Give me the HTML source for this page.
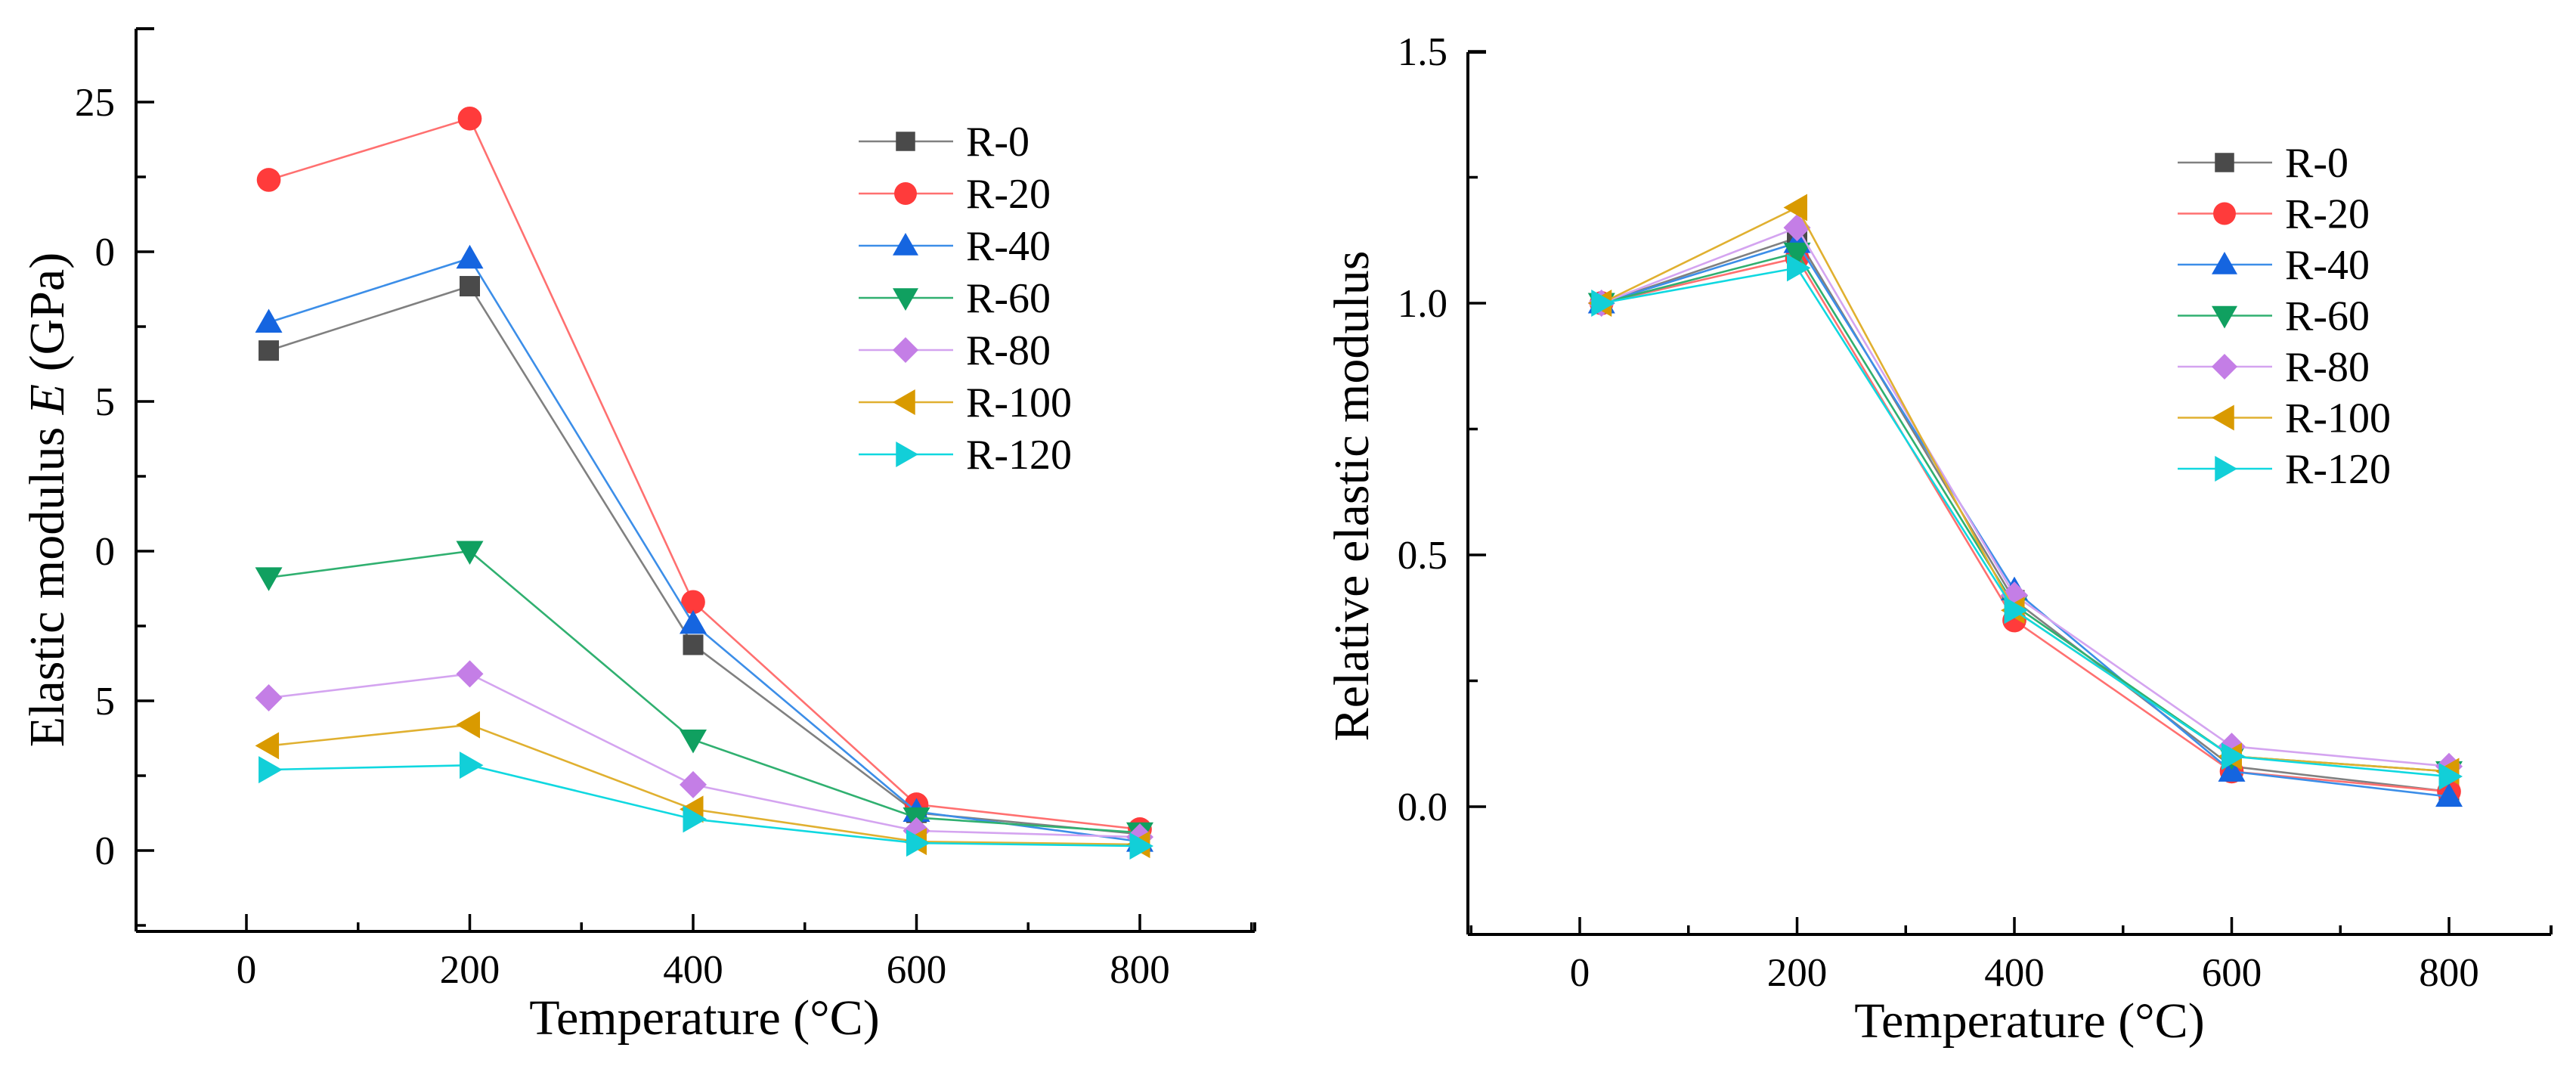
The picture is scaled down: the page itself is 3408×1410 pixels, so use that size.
<!DOCTYPE html>
<html><head><meta charset="utf-8"><style>
html,body{margin:0;padding:0;background:#fff;}
svg{display:block;font-family:"Liberation Serif",serif;}
</style></head><body>
<svg id="fig" width="3408" height="1410" viewBox="0 0 3408 1410"></svg>
<script>
const temps=[20,200,400,600,800];
const seriesNames=["R-0","R-20","R-40","R-60","R-80","R-100","R-120"];
const modR0=[16.7,18.85,6.87,1.26,0.55];
const modR20=[22.4,24.45,8.3,1.54,0.71];
const modR40=[17.64,19.78,7.58,1.3,0.3];
const modR60=[9.12,10.0,3.7,1.1,0.6];
const modR80=[5.1,5.9,2.2,0.66,0.45];
const modR100=[3.5,4.2,1.38,0.3,0.2];
const modR120=[2.7,2.85,1.05,0.25,0.15];
const relR0=[1.0,1.13,0.41,0.08,0.03];
const relR20=[1.0,1.09,0.37,0.07,0.03];
const relR40=[1.0,1.12,0.43,0.07,0.02];
const relR60=[1.0,1.10,0.40,0.10,0.07];
const relR80=[1.0,1.15,0.42,0.12,0.08];
const relR100=[1.0,1.19,0.39,0.10,0.07];
const relR120=[1.0,1.07,0.39,0.10,0.06];
const xTicks=[0,200,400,600,800];
const leftYTicks=[0,5,10,15,20,25];
const rightYTicks=[0.0,0.5,1.0,1.5];

const markers=["square","circle","up","down","diamond","left","right"];
const markerColors=["#4a4a4a","#ff3b3b","#1565e0","#10a060","#c47ee6","#d99a00","#12cfd8"];
const lineColors=["#808080","#ff7070","#3c8ee8","#30b070","#d4a4f0","#e0b030","#10d8e0"];
const NS="http://www.w3.org/2000/svg";
const svg=document.getElementById('fig');
function mk(tag,attrs,parent){const e=document.createElementNS(NS,tag);for(const k in attrs)e.setAttribute(k,attrs[k]);(parent||svg).appendChild(e);return e;}
function marker(type,cx,cy,col,g,s){
  let e;
  if(type==="square")e=mk('rect',{x:cx-s*0.75,y:cy-s*0.75,width:s*1.5,height:s*1.5,fill:col},g);
  else if(type==="circle")e=mk('circle',{cx:cx,cy:cy,r:s*0.88,fill:col},g);
  else{let p;
    if(type==="up")p=[[cx,cy-s],[cx+s,cy+s*0.75],[cx-s,cy+s*0.75]];
    if(type==="down")p=[[cx,cy+s],[cx+s,cy-s*0.75],[cx-s,cy-s*0.75]];
    if(type==="left")p=[[cx-s,cy],[cx+s*0.75,cy-s],[cx+s*0.75,cy+s]];
    if(type==="right")p=[[cx+s,cy],[cx-s*0.75,cy-s],[cx-s*0.75,cy+s]];
    if(type==="diamond")p=[[cx,cy-s],[cx+s,cy],[cx,cy+s],[cx-s,cy]];
    e=mk('polygon',{points:p.map(q=>q.join(',')).join(' '),fill:col},g);}
  return e;
}
function chart(cfg){
  const g=mk('g',{});
  
  
  const X=v=>cfg.x0px+v*(cfg.x800px-cfg.x0px)/800;
  const Y=v=>cfg.y0px-v*cfg.pxPerUnit;
  const ya=mk('line',{x1:cfg.axL,y1:cfg.axT,x2:cfg.axL,y2:cfg.axB,stroke:"#000","stroke-width":4},g);
  
  const xa=mk('line',{x1:cfg.axL,y1:cfg.axB,x2:cfg.axR,y2:cfg.axB,stroke:"#000","stroke-width":4},g);
  
  mk('line',{x1:cfg.axR,y1:cfg.axB,x2:cfg.axR,y2:cfg.axB-12,stroke:"#000","stroke-width":4},g);
  mk('line',{x1:cfg.axL,y1:cfg.axT,x2:cfg.axL+24,y2:cfg.axT,stroke:"#000","stroke-width":4},g);
  for(let v=-100;v<=900;v+=100){const px=X(v);if(px<cfg.axL+2||px>cfg.axR-4)continue;
    const major=v%200===0;
    mk('line',{x1:px,y1:cfg.axB,x2:px,y2:cfg.axB-(major?23:12),stroke:"#000","stroke-width":3.5},g);}
  xTicks.forEach(v=>{const t=mk('text',{x:X(v),y:cfg.axB+68,"font-size":53,"text-anchor":"middle"},g);t.textContent=v;
    });
  const yt=cfg.yTicks;const step=yt[1]-yt[0];
  for(let i=0;i<yt.length;i++){
    mk('line',{x1:cfg.axL,y1:Y(yt[i]),x2:cfg.axL+24,y2:Y(yt[i]),stroke:"#000","stroke-width":3.5},g);
    const mv=yt[i]+step/2;if(Y(mv)>cfg.axT+4)mk('line',{x1:cfg.axL,y1:Y(mv),x2:cfg.axL+13,y2:Y(mv),stroke:"#000","stroke-width":3.5},g);
    const mv2=yt[i]-step/2;if(i===0&&Y(mv2)<cfg.axB-4)mk('line',{x1:cfg.axL,y1:Y(mv2),x2:cfg.axL+13,y2:Y(mv2),stroke:"#000","stroke-width":3.5},g);
    const t=mk('text',{x:cfg.labEnd,y:Y(yt[i])+18,"font-size":53,"text-anchor":"end"},g);
    t.textContent=cfg.fmt(yt[i]);
  }
  if(cfg.coverW)mk('rect',{x:0,y:300,width:cfg.coverW,height:cfg.axB-300,fill:"#fff"},g);
  const cy=cfg.titleCY;
  const yt2=mk('text',{x:cfg.titleX,y:cy,"font-size":66,"text-anchor":"middle",transform:`rotate(-90 ${cfg.titleX} ${cy})`},g);
  yt2.innerHTML=cfg.yTitle;
  const xt=mk('text',{x:cfg.xTitleCX,y:cfg.axB+136,"font-size":66,"text-anchor":"middle"},g);
  xt.textContent="Temperature (°C)";
  cfg.data.forEach((arr,si)=>{
    const sg=mk('g',{},g);
    
    
    const pts=temps.map((t,i)=>X(t)+','+Y(arr[i])).join(' ');
    mk('polyline',{points:pts,fill:"none",stroke:lineColors[si],"stroke-width":2.6},sg);
    temps.forEach((t,i)=>{const m=marker(markers[si],X(t),Y(arr[i]),markerColors[si],sg,18);
      
      });
  });
  const lg=mk('g',{},g);
  
  seriesNames.forEach((n,i)=>{
    const ly=cfg.legY+i*cfg.legDy;
    const eg=mk('g',{},lg);
    
    mk('line',{x1:cfg.legX,y1:ly,x2:cfg.legX+125,y2:ly,stroke:lineColors[i],"stroke-width":2.6},eg);
    marker(markers[i],cfg.legX+62,ly,markerColors[i],eg,17);
    const t=mk('text',{x:cfg.legX+142,y:ly+19,"font-size":56},eg);t.textContent=n;
  });
}
chart({name:"elastic-modulus-chart",axL:180,axR:1660,axT:38,axB:1232,x0px:326,x800px:1508,y0px:1125,pxPerUnit:39.6,
  yTicks:leftYTicks,fmt:v=>String(v),labEnd:152,yTitle:'Elastic modulus <tspan font-style="italic">E</tspan> (GPa)',titleX:84,titleCY:661,coverW:124,
  xTitleCX:932,data:[modR0,modR20,modR40,modR60,modR80,modR100,modR120],legX:1136,legY:187,legDy:69});
chart({name:"relative-modulus-chart",axL:1942,axR:3375,axT:69,axB:1236,x0px:2090,x800px:3240,y0px:1067,pxPerUnit:666,
  yTicks:rightYTicks,fmt:v=>v.toFixed(1),labEnd:1915,yTitle:'Relative elastic modulus',titleX:1810,titleCY:656,coverW:0,
  xTitleCX:2685,data:[relR0,relR20,relR40,relR60,relR80,relR100,relR120],legX:2881,legY:215,legDy:67.5});
</script>
</body></html>
